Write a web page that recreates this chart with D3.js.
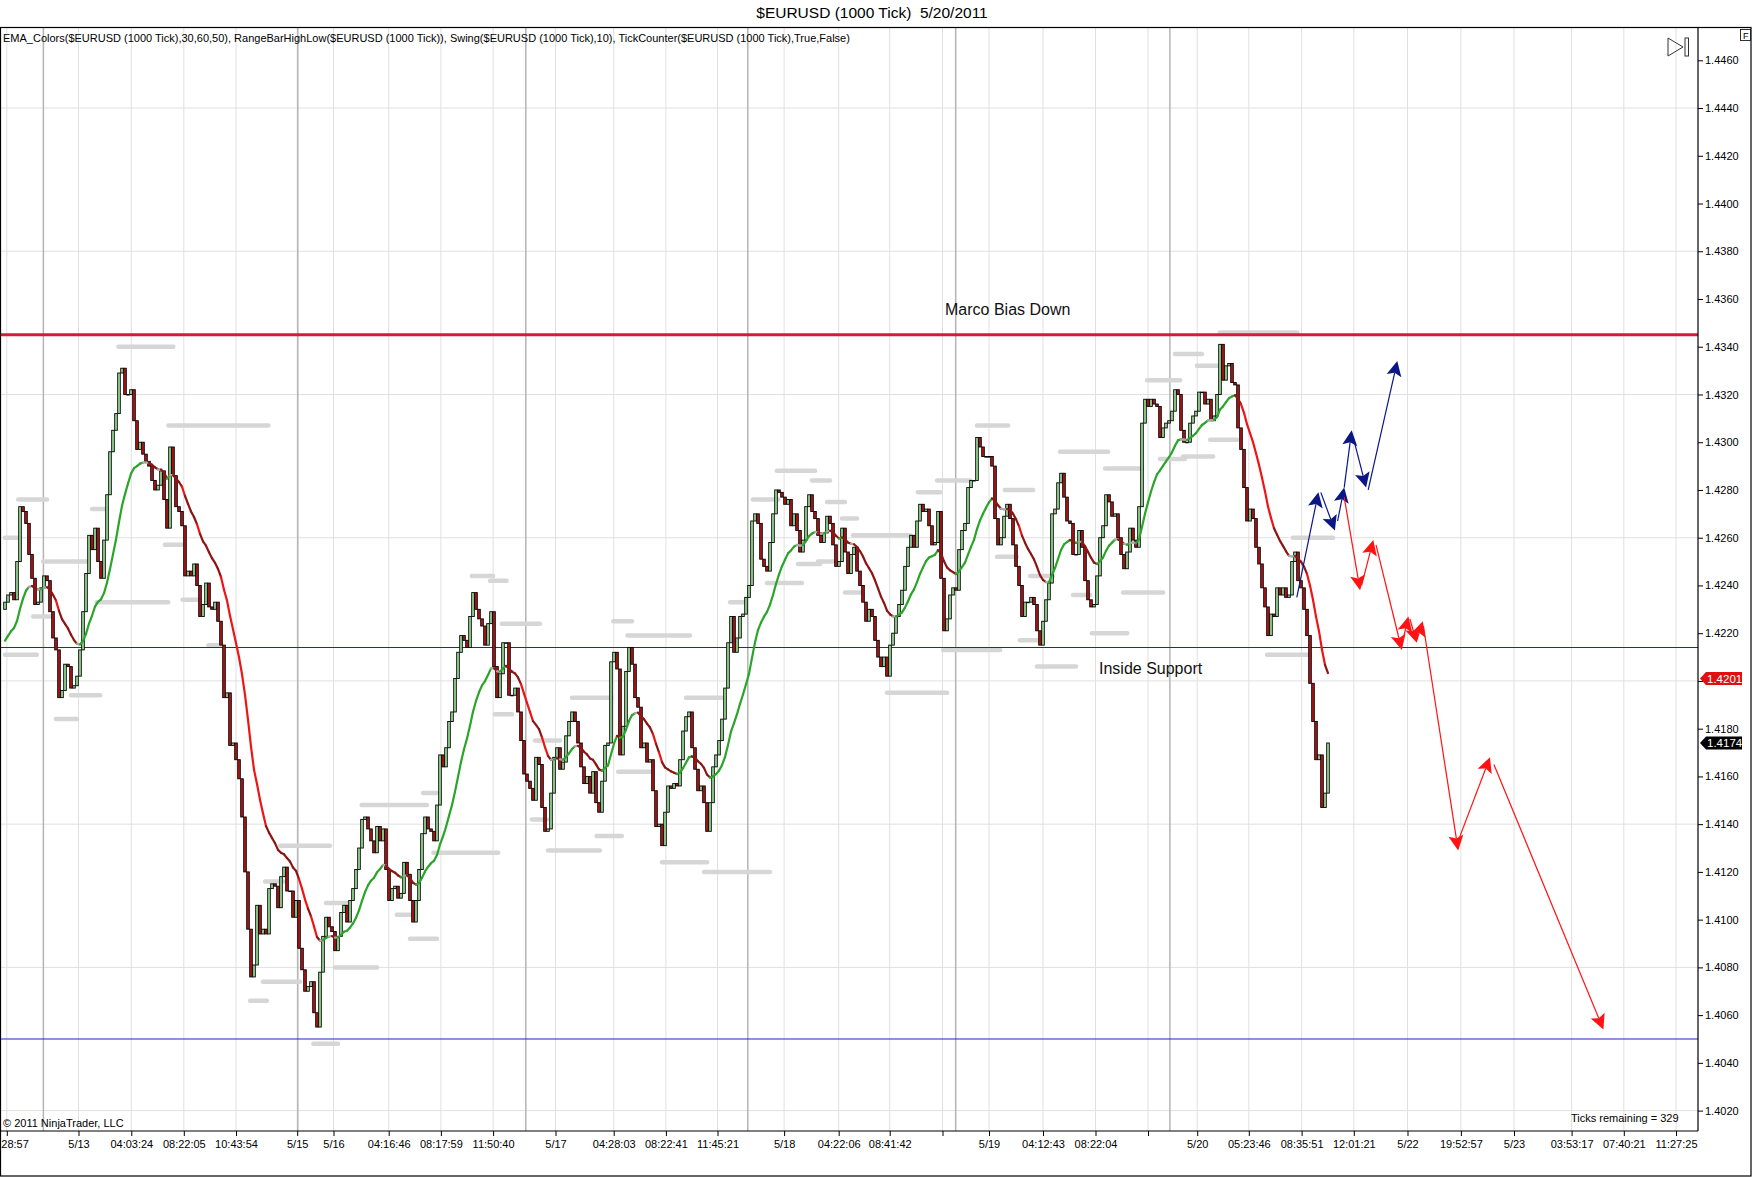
<!DOCTYPE html>
<html>
<head>
<meta charset="utf-8">
<script src="https://cdn.jsdelivr.net/npm/d3@7"></script>
<style>
  body { margin: 0; background: #fff; }
  svg text { font-family: "Liberation Sans", Arial, sans-serif; }
</style>
</head>
<body>
<div id="chart"></div>
<script>
// frame and plot box
const FRAME_WIDTH = 1752;
const FRAME_HEIGHT = 1177;
const PLOT = {left: 1, right: 1698, top: 27, bottom: 1131};

// closes of each 1000 tick bar, one block per stretch
const closesA = [
  1.4233,1.4236,1.4237,1.4234,1.4250,1.4273,1.4271,1.4266,1.4253,1.4243,
  1.4232,1.4233,1.4239,1.4244,1.4242,1.4229,1.4218,1.4213,1.4193,1.4196,
  1.4207,1.4206,1.4197,1.4198,1.4202,1.4213,1.4229,1.4245,1.4261,1.4255,
  1.4264,1.4250,1.4243,1.4259,1.4278,1.4296,1.4305,1.4312,1.4329,1.4331,
  1.4320,1.4320,1.4322,1.4309,1.4297,1.4300,1.4295,1.4292,1.4290,1.4284,
  1.4280,1.4282,1.4288,1.4276,1.4264,1.4298,1.4286,1.4273,1.4271,1.4265,
  1.4244,1.4246,1.4244,1.4249,1.4240,1.4227,1.4232,1.4241,1.4231,1.4230,
  1.4233,1.4225,1.4215,1.4193,1.4195,1.4173,1.4174,1.4167,1.4159,1.4143,
  1.4120,1.4096,1.4076,1.4081,1.4106,1.4094,1.4096,1.4094,1.4113,1.4115,
  1.4114,1.4105,1.4118,1.4122,1.4112,1.4112,1.4101,1.4108,1.4088,1.4079,
  1.4070,1.4072,1.4074,1.4061,1.4055,1.4078,1.4093,1.4101,1.4097,1.4095,
  1.4087,1.4093
];
const closesB = [
  1.4103,1.4106,1.4099,1.4108,1.4113,1.4121,1.4130,1.4142,1.4143,1.4138,
  1.4133,1.4128,1.4139,1.4133,1.4138,1.4121,1.4108,1.4113,1.4114,1.4109,
  1.4111,1.4124,1.4119,1.4108,1.4099,1.4108,1.4121,1.4136,1.4143,1.4138,
  1.4137,1.4133,1.4148,1.4169,1.4164,1.4172,1.4183,1.4187,1.4201,1.4212,
  1.4219,1.4217,1.4214,1.4227,1.4237,1.4230,1.4226,1.4223,1.4215,1.4224,
  1.4229,1.4206,1.4193,1.4203,1.4216,1.4216,1.4194,1.4194,1.4197,1.4187,
  1.4175,1.4161,1.4158,1.4155,1.4150,1.4168,1.4165,1.4147,1.4137,1.4138,
  1.4153,1.4168,1.4172,1.4163,1.4166,1.4177,1.4183,1.4187,1.4183,1.4174,
  1.4164,1.4157,1.4160,1.4153,1.4162,1.4149,1.4145,1.4158,1.4173,1.4174,
  1.4208,1.4212,1.4205,1.4169,1.4181,1.4204,1.4214,1.4207,1.4193,1.4189,
  1.4172,1.4174,1.4166,1.4167,1.4154,1.4139,1.4140,1.4131,1.4145,1.4156,
  1.4155,1.4157,1.4156,1.4167,1.4179,1.4185,1.4187,1.4172
];
const closesC = [
  1.4163,1.4154,1.4156,1.4149,1.4137,1.4149,1.4164,1.4169,1.4175,1.4184,
  1.4197,1.4216,1.4227,1.4212,1.4218,1.4227,1.4228,1.4235,1.4240,1.4267,
  1.4270,1.4266,1.4251,1.4248,1.4246,1.4258,1.4270,1.4280,1.4279,1.4277,
  1.4274,1.4276,1.4265,1.4270,1.4263,1.4254,1.4259,1.4273,1.4278,1.4271,
  1.4268,1.4261,1.4258,1.4262,1.4269,1.4266,1.4257,1.4248,1.4250,1.4264,
  1.4254,1.4245,1.4253,1.4256,1.4246,1.4240,1.4233,1.4225,1.4230,1.4227,
  1.4217,1.4210,1.4206,1.4210,1.4202,1.4215,1.4220,1.4227,1.4232,1.4238,
  1.4248,1.4256,1.4261,1.4256,1.4267,1.4274,1.4271,1.4272,1.4265,1.4257,
  1.4258,1.4271,1.4243,1.4221,1.4226,1.4236,1.4239,1.4238,1.4255,1.4263,
  1.4266,1.4281,1.4284,1.4284,1.4302,1.4298,1.4294,1.4294,1.4294,1.4290,
  1.4268,1.4257,1.4260,1.4269,1.4274,1.4268,1.4257,1.4248,1.4240,1.4227,
  1.4233,1.4233,1.4235,1.4232,1.4221,1.4215,1.4225
];
const closesD = [
  1.4234,1.4241,1.4270,1.4272,1.4283,1.4287,1.4277,1.4267,1.4266,1.4253,
  1.4253,1.4263,1.4256,1.4242,1.4234,1.4231,1.4232,1.4244,1.4260,1.4265,
  1.4278,1.4275,1.4269,1.4270,1.4260,1.4253,1.4247,1.4254,1.4264,1.4259,
  1.4256,1.4273,1.4308,1.4318,1.4315,1.4318,1.4316,1.4315,1.4302,1.4306,
  1.4308,1.4309,1.4313,1.4322,1.4320,1.4305,1.4300,1.4300,1.4308,1.4311,
  1.4313,1.4321,1.4321,1.4316,1.4318,1.4309,1.4311,1.4320,1.4341,1.4326,
  1.4332,1.4333,1.4325,1.4324,1.4306,1.4297,1.4281,1.4267,1.4272,1.4268,
  1.4256,1.4249,1.4239,1.4231,1.4219,1.4228,1.4227,1.4239,1.4236,1.4239,
  1.4235,1.4236,1.4250,1.4254,1.4242,1.4239,1.4230,1.4219,1.4199,1.4183,
  1.4167,1.4169,1.4147,1.4153,1.4174
];
const CLOSES = closesA.concat(closesB, closesC, closesD);
const FIRST_OPEN = 1.4230;

// ema settings (seed read where the line enters the chart)
const EMA_PERIOD = 18;
const EMA_SEED = 1.4215;

// time axis: bar slot of each tick and its label
const timeTickIndex = [0.6, 24.5, 42.1, 59.6, 77, 97.4, 109.5, 127.9, 145.3, 162.7,
  183.5, 202.9, 220.3, 237.5, 259.7, 277.9, 294.9, 312.5, 328, 346, 363.5, 381,
  397.4, 414.6, 432.2, 449.6, 467.5, 485.3, 503, 522.2, 539.6, 557];
const timeTickLabels = ["28:57", "5/13", "04:03:24", "08:22:05", "10:43:54", "5/15",
  "5/16", "04:16:46", "08:17:59", "11:50:40", "5/17", "04:28:03", "08:22:41",
  "11:45:21", "5/18", "04:22:06", "08:41:42", "", "5/19", "04:12:43", "08:22:04", "",
  "5/20", "05:23:46", "08:35:51", "12:01:21", "5/22", "19:52:57", "5/23",
  "03:53:17", "07:40:21", "11:27:25"];
const sessionBreakIndex = [12.8, 97.6, 173.6, 247.6, 316.9, 388.3];

// price axis
const priceTicks = [1.4020, 1.4040, 1.4060, 1.4080, 1.4100, 1.4120, 1.4140, 1.4160,
  1.4180, 1.4200, 1.4220, 1.4240, 1.4260, 1.4280, 1.4300, 1.4320, 1.4340, 1.4360,
  1.4380, 1.4400, 1.4420, 1.4440, 1.4460];
const priceGrid = [1.4020, 1.4080, 1.4140, 1.4200, 1.4260, 1.4320, 1.4380, 1.4440];

// drawn levels
const biasLevel = 1.4345;
const supportLevels = [1.4214, 1.4050];
const lastEmaLabel = 1.4201;
const lastPriceLabel = 1.4174;

// swing high / low markers: [from bar, to bar, price]
const swingBars = [
  [4.4, 14, 1.4276], [0, 5, 1.4260], [12.7, 27.8, 1.4250], [9.4, 15.6, 1.4227],
  [0, 10.6, 1.4211], [22, 31.7, 1.4194], [17, 24, 1.4184], [29, 34, 1.4272],
  [30.6, 54.4, 1.4233], [37.8, 56.1, 1.4340], [54.5, 87.8, 1.4307], [53.3, 59, 1.4257],
  [59.2, 65, 1.4234], [67.8, 72.2, 1.4215], [91.7, 108.3, 1.4131], [86.7, 92.8, 1.4116],
  [86, 98.3, 1.4074], [81.7, 87.3, 1.4066], [107, 114, 1.4107], [102.8, 111, 1.4048],
  [110, 124, 1.4080], [118.9, 140.6, 1.4148], [139.4, 144, 1.4153], [130.6, 136.7, 1.4102],
  [135, 144, 1.4092], [142.8, 164.4, 1.4128], [155.6, 162.7, 1.4244], [161.7, 167.2, 1.4242],
  [165.6, 178.3, 1.4224], [163.3, 169, 1.4186], [176.7, 185, 1.4175], [175.6, 180.6, 1.4142],
  [181, 198.3, 1.4129], [189, 202.2, 1.4193], [197.2, 205.6, 1.4135], [202.8, 209, 1.4225],
  [207.5, 228.3, 1.4219], [204.4, 215, 1.4162], [219, 234, 1.4124], [233, 255, 1.4120],
  [227, 240, 1.4193], [241.7, 247.3, 1.4233], [249.3, 257.8, 1.4276], [257.3, 270, 1.4288],
  [254, 265.6, 1.4241], [269, 275, 1.4284], [274, 280, 1.4275], [279, 284, 1.4268],
  [264.3, 271.7, 1.4249], [271, 276, 1.4250], [282.7, 301.7, 1.4261], [280, 285.6, 1.4237],
  [294, 314, 1.4195], [304.3, 311.7, 1.4279], [310.7, 321.7, 1.4284], [312.7, 331.7, 1.4213],
  [324, 334.4, 1.4307], [333.3, 342.7, 1.4280], [330.7, 337.3, 1.4252], [338.3, 344.3, 1.4217],
  [341.7, 349.3, 1.4244], [344, 357, 1.4206], [351.7, 367.7, 1.4296], [366.7, 379, 1.4289],
  [356, 361.7, 1.4236], [362.3, 374, 1.4220], [372.7, 386, 1.4237], [380.7, 391.7, 1.4326],
  [390, 399, 1.4337], [397.3, 405, 1.4332], [405, 430.7, 1.4346], [385, 393.3, 1.4293],
  [392.7, 402.7, 1.4294], [401.7, 410.7, 1.4301], [429.3, 442.7, 1.4260], [420.7, 435, 1.4211]
];

// hand drawn scenario arrows: [from bar, from price, to bar, to price]
const blueArrows = [
  [430.6, 1.4235, 437.8, 1.4279], [438.6, 1.4279, 443.3, 1.4263],
  [444.2, 1.4267, 446.4, 1.4281], [446.4, 1.4281, 448.9, 1.4305],
  [449.4, 1.4302, 453.7, 1.4281], [454.4, 1.4280, 464.1, 1.4334]
];
const redArrows = [
  [446.4, 1.4277, 451.7, 1.4238], [452.2, 1.4240, 456.1, 1.4259],
  [457.0, 1.4257, 465.6, 1.4213], [465.6, 1.4215, 467.8, 1.4227],
  [468.3, 1.4226, 470.6, 1.4216], [470.6, 1.4217, 472.6, 1.4225],
  [472.8, 1.4223, 484.4, 1.4129], [484.4, 1.4133, 495.0, 1.4168],
  [496.3, 1.4165, 532.8, 1.4054]
];

const FONT = '"Liberation Sans", Arial, sans-serif';

const svg = d3.select("#chart")
  .append("svg")
    .attr("width", FRAME_WIDTH)
    .attr("height", FRAME_HEIGHT);

// scales: bar slot -> x, price -> y
const X = d3.scaleLinear().domain([0, 441]).range([5, 1328]);
const Y = d3.scaleLinear().domain([1.4020, 1.4460]).range([1110.6, 60.3]);

// light grid
svg.append("g").selectAll("line")
  .data(timeTickIndex)
  .enter().append("line")
    .attr("x1", d => X(d)).attr("x2", d => X(d))
    .attr("y1", PLOT.top).attr("y2", PLOT.bottom)
    .attr("stroke", "#e0e0e0").attr("stroke-width", 1);
svg.append("g").selectAll("line")
  .data(priceGrid)
  .enter().append("line")
    .attr("x1", PLOT.left).attr("x2", PLOT.right)
    .attr("y1", d => Y(d)).attr("y2", d => Y(d))
    .attr("stroke", "#e0e0e0").attr("stroke-width", 1);
// session breaks
svg.append("g").selectAll("line")
  .data(sessionBreakIndex)
  .enter().append("line")
    .attr("x1", d => X(d)).attr("x2", d => X(d))
    .attr("y1", PLOT.top).attr("y2", PLOT.bottom)
    .attr("stroke", "#b4b4b4").attr("stroke-width", 1.5);

// swing markers
svg.append("g").selectAll("line")
  .data(swingBars)
  .enter().append("line")
    .attr("x1", d => X(d[0])).attr("x2", d => X(d[1]))
    .attr("y1", d => Y(d[2])).attr("y2", d => Y(d[2]))
    .attr("stroke", "#d6d6d6").attr("stroke-width", 4.5)
    .attr("stroke-linecap", "round");

// horizontal support lines
svg.append("g").selectAll("line")
  .data(supportLevels)
  .enter().append("line")
    .attr("x1", PLOT.left).attr("x2", PLOT.right)
    .attr("y1", d => Y(d)).attr("y2", d => Y(d))
    .attr("stroke", "#2323b0").attr("stroke-width", 1);

// candles (open = previous close on a tick chart)
const bars = CLOSES.map((c, i) => ({i: i, o: i === 0 ? FIRST_OPEN : CLOSES[i - 1], c: c}));
svg.append("g").selectAll("rect")
  .data(bars)
  .enter().append("rect")
    .attr("x", d => X(d.i) - 1.3)
    .attr("width", 2.6)
    .attr("y", d => Y(Math.max(d.o, d.c)))
    .attr("height", d => Math.max(Math.abs(Y(d.o) - Y(d.c)), 0.6))
    .attr("fill", d => d.c >= d.o ? "#9be39b" : "#b81616")
    .attr("stroke", "#000")
    .attr("stroke-width", 0.9);

// EMA, coloured by its slope
const K = 2 / (EMA_PERIOD + 1);
const ema = [];
CLOSES.forEach((c, i) => {
  const prev = i === 0 ? EMA_SEED : ema[i - 1];
  ema.push(prev + K * (c - prev));
});
const emaColor = (s) => {
  if (s > 0.00004) return "#2aa52a";
  if (s < -0.00036) return "#ee1515";
  if (s < -0.00004) return "#8e1515";
  return "#a8a8a8";
};
svg.append("g").selectAll("line")
  .data(d3.range(1, ema.length))
  .enter().append("line")
    .attr("x1", i => X(i - 1)).attr("x2", i => X(i))
    .attr("y1", i => Y(ema[i - 1])).attr("y2", i => Y(ema[i]))
    .attr("stroke", i => emaColor(ema[i] - ema[i - 1]))
    .attr("stroke-width", 2.2)
    .attr("stroke-linecap", "round");

// bias line
svg.append("line")
  .attr("x1", PLOT.left).attr("x2", PLOT.right)
  .attr("y1", Y(biasLevel)).attr("y2", Y(biasLevel))
  .attr("stroke", "#d8193c").attr("stroke-width", 3);

// arrows
function drawArrows(data, color) {
  const g = svg.append("g");
  data.forEach(a => {
    const x1 = X(a[0]), y1 = Y(a[1]), x2 = X(a[2]), y2 = Y(a[3]);
    const len = Math.hypot(x2 - x1, y2 - y1);
    const ux = (x2 - x1) / len, uy = (y2 - y1) / len;
    const L = 15, HW = 7.5;
    const bx = x2 - L * ux, by = y2 - L * uy;
    const nx = x2 - 0.8 * L * ux, ny = y2 - 0.8 * L * uy;
    g.append("line")
      .attr("x1", x1).attr("y1", y1).attr("x2", nx).attr("y2", ny)
      .attr("stroke", color).attr("stroke-width", 1.2);
    g.append("path")
      .attr("d", `M${x2},${y2}L${bx - HW * uy},${by + HW * ux}L${nx},${ny}L${bx + HW * uy},${by - HW * ux}Z`)
      .attr("fill", color);
  });
}
drawArrows(blueArrows, "#0c1785");
drawArrows(redArrows, "#ff1212");

// annotations
svg.append("text").attr("x", 945).attr("y", 315)
  .attr("font-size", 16).attr("fill", "#111").text("Marco Bias Down");
svg.append("text").attr("x", 1099).attr("y", 674)
  .attr("font-size", 16).attr("fill", "#111").text("Inside Support");

// frame
svg.append("rect").attr("x", 0.5).attr("y", PLOT.top + 0.5)
  .attr("width", FRAME_WIDTH - 1.5).attr("height", FRAME_HEIGHT - PLOT.top - 1.5)
  .attr("fill", "none").attr("stroke", "#000").attr("stroke-width", 1.2);
svg.append("line").attr("x1", 0).attr("x2", PLOT.right)
  .attr("y1", PLOT.bottom).attr("y2", PLOT.bottom)
  .attr("stroke", "#000").attr("stroke-width", 1.2);
svg.append("line").attr("x1", PLOT.right).attr("x2", PLOT.right)
  .attr("y1", PLOT.top).attr("y2", PLOT.bottom)
  .attr("stroke", "#000").attr("stroke-width", 1.2);

// price axis
svg.append("g")
  .attr("transform", "translate(" + PLOT.right + ",0)")
  .call(d3.axisRight(Y).tickValues(priceTicks).tickFormat(d3.format(".4f"))
    .tickSize(5).tickPadding(2))
  .call(g => g.select(".domain").remove())
  .attr("font-size", 11).attr("font-family", FONT);

// time axis
const xAxis = svg.append("g")
  .attr("transform", "translate(0," + PLOT.bottom + ")")
  .call(d3.axisBottom(X).tickValues(timeTickIndex)
    .tickFormat((d, i) => timeTickLabels[i]).tickSize(5).tickPadding(4))
  .call(g => g.select(".domain").remove())
  .attr("font-size", 11).attr("font-family", FONT);
xAxis.select(".tick text").attr("text-anchor", "start").attr("x", -6);

// last value markers on the price axis
function priceMarker(v, fill) {
  const yc = Y(v);
  svg.append("path")
    .attr("d", `M${PLOT.right + 2},${yc}L${PLOT.right + 8},${yc - 6.5}H${PLOT.right + 44}V${yc + 6.5}H${PLOT.right + 8}Z`)
    .attr("fill", fill);
  svg.append("text").attr("x", PLOT.right + 9).attr("y", yc + 4)
    .attr("font-size", 11.5).attr("fill", "#fff").text(d3.format(".4f")(v));
}
priceMarker(lastEmaLabel, "#e01010");
priceMarker(lastPriceLabel, "#000");

// titles and captions
svg.append("text").attr("x", 872).attr("y", 18).attr("text-anchor", "middle")
  .attr("font-size", 15.5).text("$EURUSD (1000 Tick)\u00a0 5/20/2011");
svg.append("text").attr("x", 3).attr("y", 42).attr("font-size", 11)
  .text("EMA_Colors($EURUSD (1000 Tick),30,60,50), RangeBarHighLow($EURUSD (1000 Tick)), Swing($EURUSD (1000 Tick),10), TickCounter($EURUSD (1000 Tick),True,False)");
svg.append("text").attr("x", 3).attr("y", 1127).attr("font-size", 11)
  .text("\u00a9 2011 NinjaTrader, LLC");
svg.append("text").attr("x", 1571).attr("y", 1122).attr("font-size", 11)
  .text("Ticks remaining = 329");

// chart control glyphs top right
svg.append("path").attr("d", "M1668,38L1683,47L1668,56Z")
  .attr("fill", "none").attr("stroke", "#333").attr("stroke-width", 1);
svg.append("rect").attr("x", 1685).attr("y", 38).attr("width", 3.5).attr("height", 18)
  .attr("fill", "none").attr("stroke", "#333").attr("stroke-width", 1);
svg.append("rect").attr("x", 1740.5).attr("y", 29.5).attr("width", 10).attr("height", 11)
  .attr("fill", "#fff").attr("stroke", "#000").attr("stroke-width", 0.8);
svg.append("text").attr("x", 1743).attr("y", 38.5).attr("font-size", 9).text("F");
</script>
</body>
</html>
